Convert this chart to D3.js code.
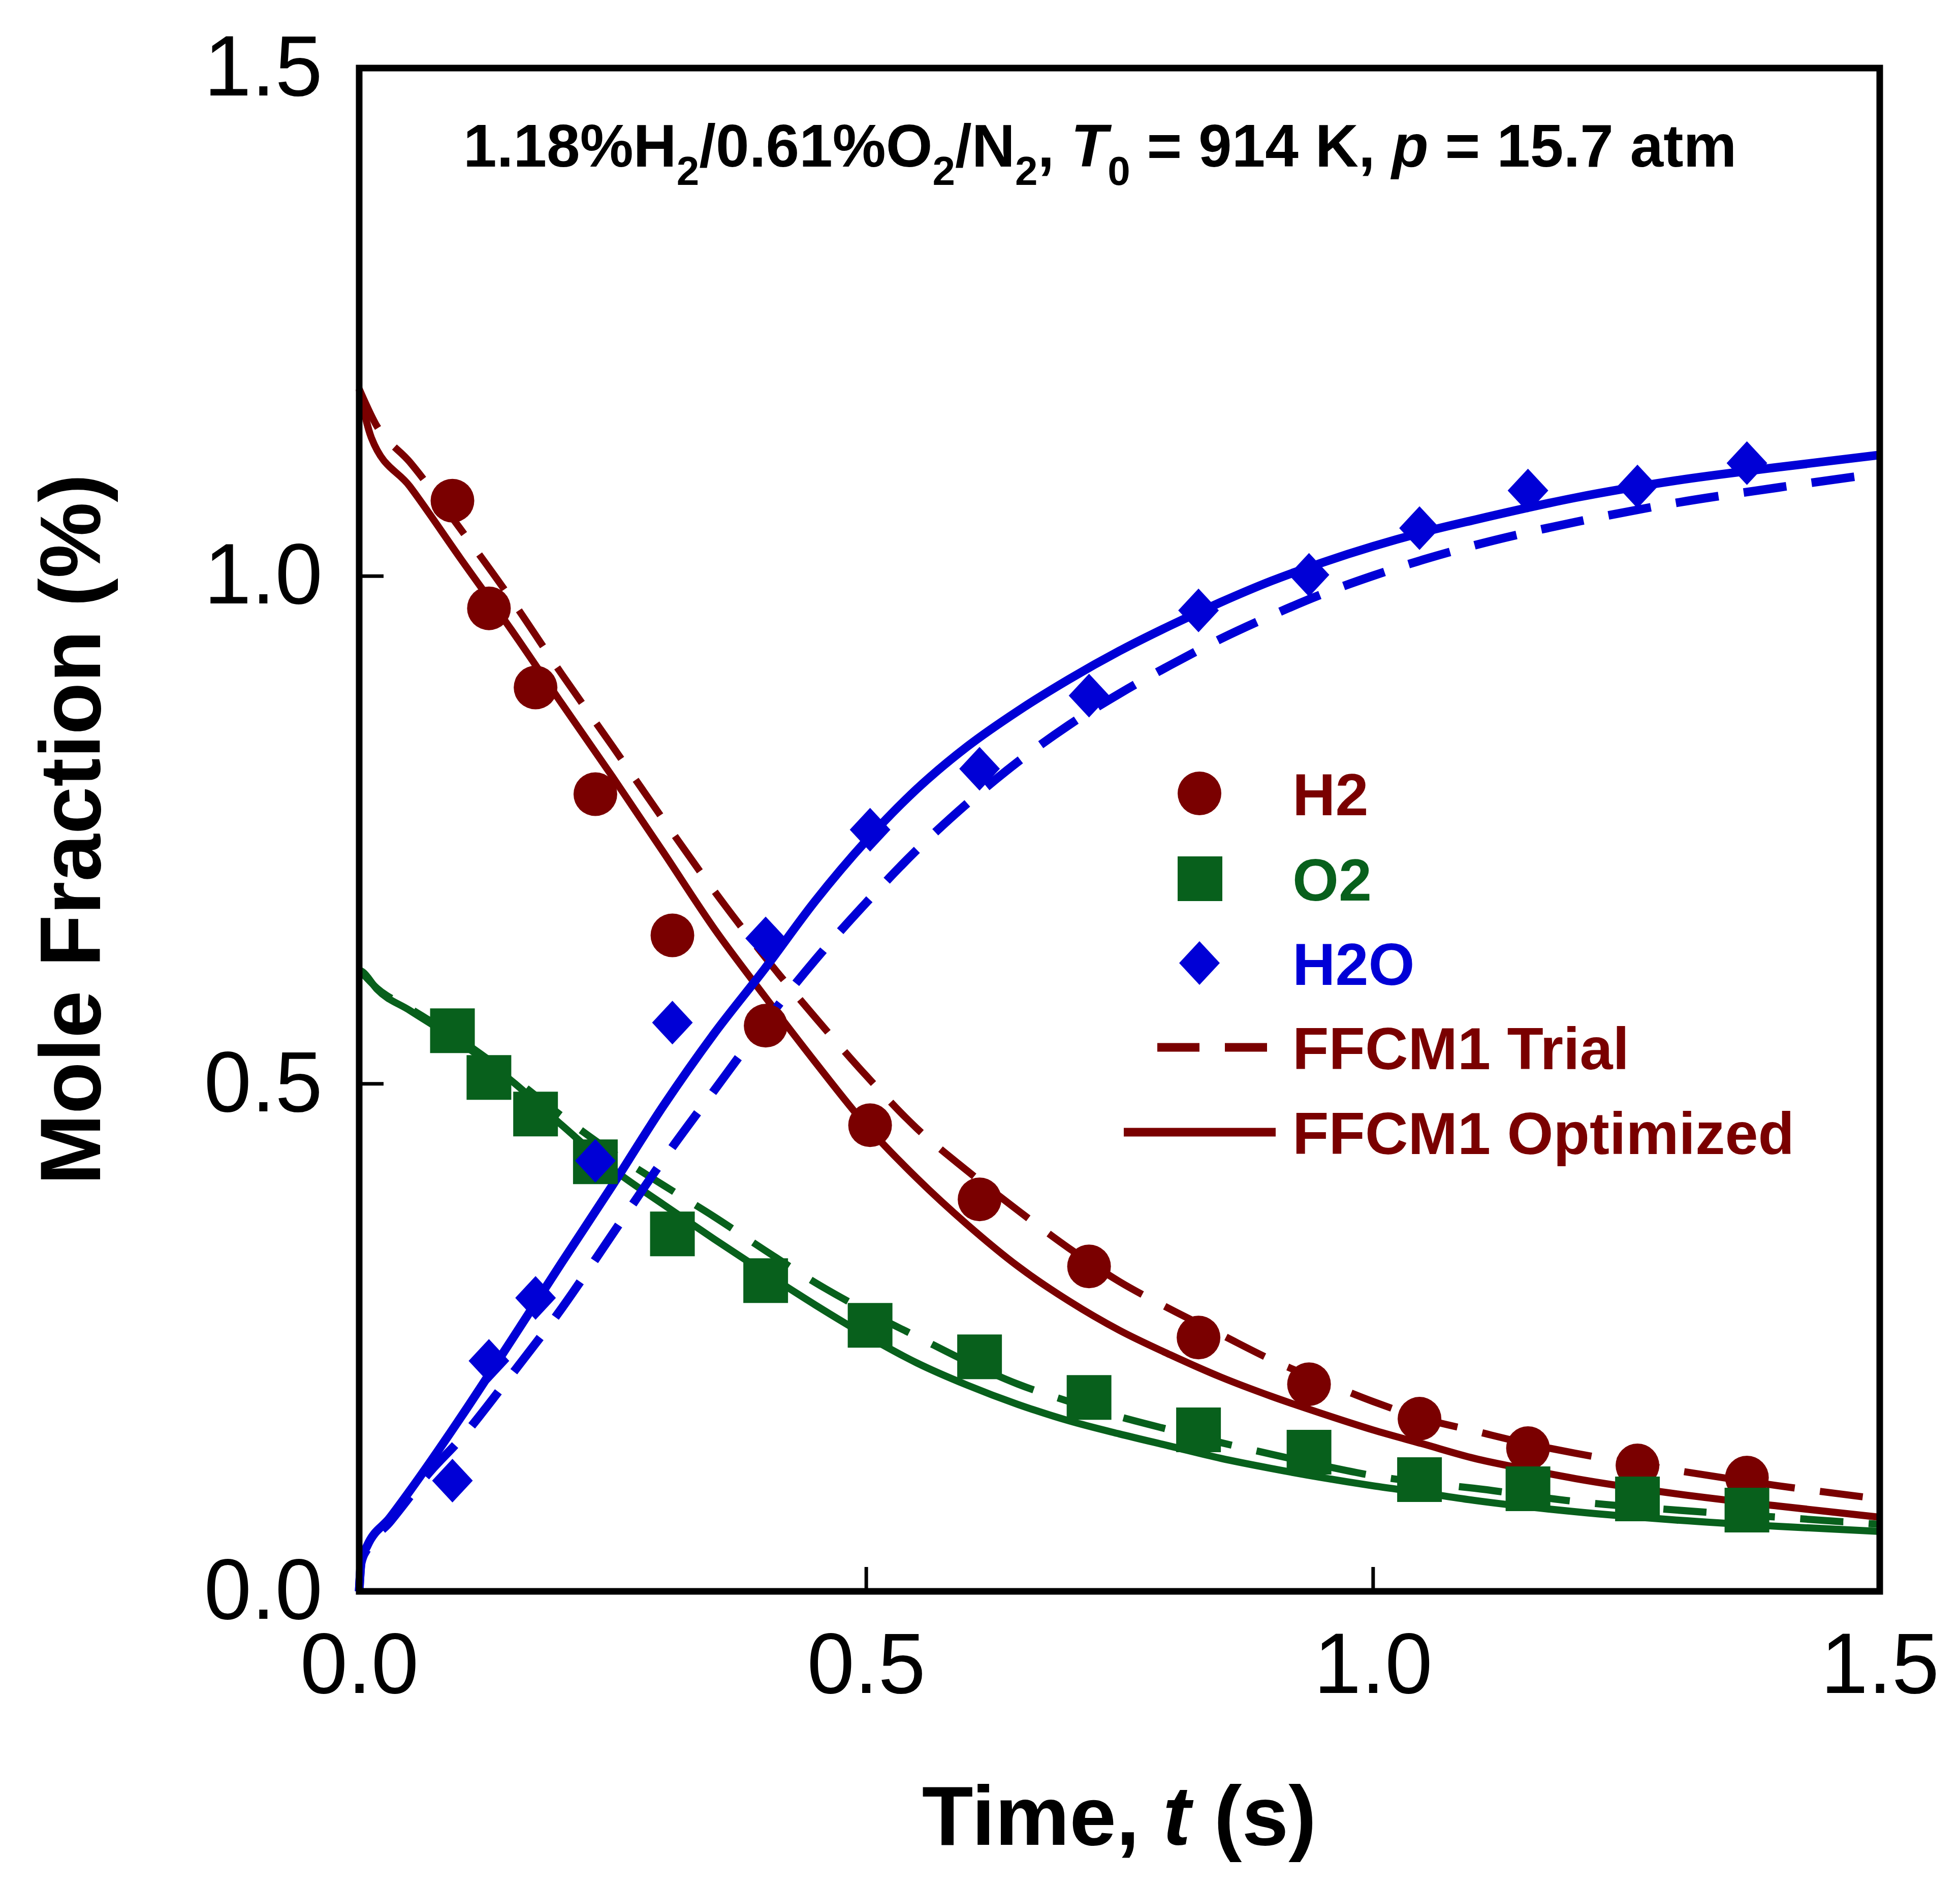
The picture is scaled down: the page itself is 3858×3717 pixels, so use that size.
<!DOCTYPE html>
<html>
<head>
<meta charset="utf-8">
<script src="https://cdn.jsdelivr.net/npm/d3@7"></script>
<style>
  body { margin: 0; background: #fff; }
  text { font-family: "Liberation Sans", Arial, sans-serif; }
</style>
</head>
<body>
<svg id="chart" width="3858" height="3717"></svg>
<script>
// measured points (time in s, mole fraction in %)
const expTime = [0.092, 0.128, 0.174, 0.233, 0.309, 0.401, 0.504, 0.612, 0.720, 0.828, 0.937, 1.046, 1.153, 1.261, 1.369];
const expH2   = [1.074, 0.968, 0.890, 0.785, 0.646, 0.557, 0.459, 0.386, 0.320, 0.250, 0.204, 0.170, 0.141, 0.124, 0.112];
const expO2   = [0.552, 0.506, 0.470, 0.423, 0.352, 0.306, 0.262, 0.231, 0.191, 0.159, 0.137, 0.110, 0.101, 0.091, 0.080];
const expH2O  = [0.109, 0.227, 0.289, 0.424, 0.560, 0.643, 0.750, 0.810, 0.882, 0.966, 1.001, 1.047, 1.084, 1.088, 1.111];

// model curves, [t, x]
const h2Opt = [[0,1.184],[0.012,1.136],[0.05,1.088],[0.10,1.017],[0.15,0.947],[0.20,0.874],[0.25,0.802],[0.30,0.728],
  [0.35,0.653],[0.40,0.586],[0.45,0.521],[0.50,0.459],[0.55,0.407],[0.60,0.361],[0.65,0.320],[0.70,0.286],[0.75,0.257],
  [0.80,0.233],[0.85,0.211],[0.90,0.192],[0.95,0.175],[1.00,0.159],[1.05,0.145],[1.10,0.131],[1.15,0.1205],[1.20,0.111],
  [1.30,0.096],[1.40,0.084],[1.50,0.073]];
const h2Trial = [[0,1.184],[0.016,1.150],[0.05,1.112],[0.10,1.046],[0.15,0.977],[0.20,0.903],[0.25,0.832],[0.30,0.760],
  [0.35,0.690],[0.40,0.625],[0.45,0.565],[0.50,0.508],[0.55,0.456],[0.60,0.414],[0.65,0.375],[0.70,0.338],[0.75,0.305],
  [0.80,0.278],[0.85,0.253],[0.90,0.228],[0.95,0.207],[1.00,0.187],[1.05,0.170],[1.10,0.158],[1.15,0.146],[1.20,0.136],
  [1.30,0.119],[1.40,0.104],[1.50,0.091]];
const o2Opt = [[0,0.612],[0.0035,0.610],[0.0175,0.593],[0.05,0.572],[0.10,0.540],[0.15,0.503],[0.20,0.459],[0.25,0.416],
  [0.30,0.381],[0.35,0.347],[0.40,0.314],[0.45,0.282],[0.50,0.252],[0.55,0.225],[0.60,0.203],[0.65,0.184],[0.70,0.168],
  [0.75,0.155],[0.80,0.143],[0.85,0.131],[0.90,0.121],[0.95,0.112],[1.00,0.104],[1.05,0.097],[1.10,0.0896],[1.20,0.0784],
  [1.30,0.0702],[1.40,0.064],[1.50,0.059]];
const o2Trial = [[0,0.612],[0.0175,0.594],[0.05,0.574],[0.10,0.543],[0.15,0.507],[0.20,0.468],[0.25,0.432],[0.30,0.400],
  [0.35,0.369],[0.40,0.336],[0.45,0.304],[0.50,0.276],[0.55,0.251],[0.60,0.226],[0.65,0.204],[0.70,0.187],[0.75,0.172],
  [0.80,0.159],[0.85,0.1465],[0.90,0.135],[0.95,0.124],[1.00,0.114],[1.05,0.107],[1.10,0.1015],[1.20,0.0885],[1.30,0.080],
  [1.40,0.073],[1.50,0.066]];
const h2oOpt = [[0,0],[0.002,0.030],[0.008,0.045],[0.03,0.072],[0.05,0.099],[0.10,0.171],[0.15,0.247],[0.20,0.324],
  [0.25,0.400],[0.30,0.478],[0.35,0.549],[0.40,0.613],[0.45,0.680],[0.50,0.739],[0.55,0.790],[0.60,0.832],[0.65,0.867],
  [0.70,0.898],[0.75,0.926],[0.80,0.951],[0.85,0.974],[0.90,0.995],[0.95,1.013],[1.00,1.029],[1.05,1.043],[1.10,1.055],
  [1.20,1.077],[1.30,1.094],[1.40,1.107],[1.50,1.119]];
const h2oTrial = [[0,0],[0.002,0.028],[0.008,0.042],[0.03,0.068],[0.07,0.118],[0.10,0.150],[0.15,0.213],[0.20,0.279],
  [0.25,0.352],[0.30,0.425],[0.35,0.493],[0.40,0.560],[0.45,0.622],[0.50,0.678],[0.55,0.730],[0.60,0.776],[0.65,0.817],
  [0.70,0.853],[0.75,0.884],[0.80,0.912],[0.85,0.938],[0.90,0.961],[0.95,0.982],[1.00,1.000],[1.05,1.016],[1.10,1.030],
  [1.20,1.053],[1.30,1.072],[1.40,1.087],[1.50,1.101]];

const ticks = [0, 0.5, 1.0, 1.5];
const legendLabels = ['H2', 'O2', 'H2O', 'FFCM1 Trial', 'FFCM1 Optimized'];

const RED = '#7a0000', GREEN = '#08601c', BLUE = '#0000d6';

const svg = d3.select('#chart');
svg.append('rect').attr('width', 3858).attr('height', 3717).attr('fill', '#fff');

const xScale = d3.scaleLinear().domain([0, 1.5]).range([707, 3700]);
const yScale = d3.scaleLinear().domain([0, 1.5]).range([3133, 134]);

// axes, ticks pointing inward
const fmt = d3.format('.1f');
const xAxis = svg.append('g')
  .attr('transform', 'translate(0,3133)')
  .call(d3.axisBottom(xScale).tickValues(ticks).tickSize(-48).tickPadding(81).tickFormat(fmt));
const yAxis = svg.append('g')
  .attr('transform', 'translate(707,0)')
  .call(d3.axisLeft(yScale).tickValues(ticks).tickSize(-48).tickPadding(72).tickFormat(fmt));
[xAxis, yAxis].forEach(g => {
  g.select('.domain').remove();
  g.selectAll('line').attr('stroke', '#000').attr('stroke-width', 7);
  g.selectAll('text').attr('font-size', 168).attr('fill', '#000')
    .attr('font-family', '"Liberation Sans", Arial, sans-serif');
});

// model lines
const line = d3.line()
  .x(d => xScale(d[0]))
  .y(d => yScale(d[1]))
  .curve(d3.curveMonotoneX);

const series = [
  { d: h2Trial, c: RED, w: 14, dash: '85,50' },
  { d: h2Opt, c: RED, w: 14, dash: null },
  { d: o2Trial, c: GREEN, w: 14, dash: '85,50' },
  { d: o2Opt, c: GREEN, w: 14, dash: null },
  { d: h2oTrial, c: BLUE, w: 17, dash: '85,50' },
  { d: h2oOpt, c: BLUE, w: 17, dash: null }
];
svg.append('g').selectAll('path')
  .data(series)
  .enter()
  .append('path')
    .attr('d', s => line(s.d))
    .attr('fill', 'none')
    .attr('stroke', s => s.c)
    .attr('stroke-width', s => s.w)
    .attr('stroke-dasharray', s => s.dash);

// measured symbols
const circle = d3.symbol().type(d3.symbolCircle).size(Math.PI * 43 * 43);
const square = d3.symbol().type(d3.symbolSquare).size(88 * 88);
const diamond = 'M0,-43L40,0L0,43L-40,0Z';

svg.append('g').selectAll('path')
  .data(expTime.map((t, i) => [t, expH2[i]]))
  .enter().append('path')
    .attr('d', circle())
    .attr('transform', d => `translate(${xScale(d[0])},${yScale(d[1])})`)
    .attr('fill', RED);
svg.append('g').selectAll('path')
  .data(expTime.map((t, i) => [t, expO2[i]]))
  .enter().append('path')
    .attr('d', square())
    .attr('transform', d => `translate(${xScale(d[0])},${yScale(d[1])})`)
    .attr('fill', GREEN);
svg.append('g').selectAll('path')
  .data(expTime.map((t, i) => [t, expH2O[i]]))
  .enter().append('path')
    .attr('d', diamond)
    .attr('transform', d => `translate(${xScale(d[0])},${yScale(d[1])})`)
    .attr('fill', BLUE);

// frame
svg.append('rect')
  .attr('x', 707).attr('y', 134)
  .attr('width', 3700 - 707).attr('height', 3133 - 134)
  .attr('fill', 'none').attr('stroke', '#000').attr('stroke-width', 13);

// axis titles
const xt = svg.append('text')
  .attr('x', 2203).attr('y', 3632)
  .attr('text-anchor', 'middle').attr('font-size', 165).attr('font-weight', 'bold');
xt.append('tspan').text('Time, ');
xt.append('tspan').attr('font-style', 'italic').text('t');
xt.append('tspan').text(' (s)');

svg.append('text')
  .attr('transform', 'translate(197,1633) rotate(-90)')
  .attr('text-anchor', 'middle').attr('font-size', 168).attr('font-weight', 'bold')
  .text('Mole Fraction (%)');

// condition annotation
const ann = svg.append('text')
  .attr('x', 912).attr('y', 328)
  .attr('font-size', 118).attr('font-weight', 'bold');
const parts = [
  ['1.18%H'], ['2', 'sub'], ['/0.61%O'], ['2', 'sub'], ['/N'], ['2', 'sub'], [', '],
  ['T', 'it'], ['0', 'sub'], [' = 914 K, '], ['p', 'it'], [' = 15.7 atm']
];
let down = false;
parts.forEach(p => {
  const ts = ann.append('tspan').text(p[0]);
  if (p[1] === 'sub') {
    ts.attr('font-size', 80).attr('dy', 36);
    down = true;
  } else {
    if (down) { ts.attr('dy', -36); down = false; }
    if (p[1] === 'it') ts.attr('font-style', 'italic');
  }
});

// legend
const legend = svg.append('g');
const rowY = [1562, 1730, 1896, 2062, 2229];
legend.append('path').attr('d', circle()).attr('transform', `translate(2361,${rowY[0]})`).attr('fill', RED);
legend.append('path').attr('d', square()).attr('transform', `translate(2362,${rowY[1]})`).attr('fill', GREEN);
legend.append('path').attr('d', diamond).attr('transform', `translate(2361,${rowY[2]})`).attr('fill', BLUE);
legend.append('line')
  .attr('x1', 2278).attr('x2', 2494).attr('y1', rowY[3]).attr('y2', rowY[3])
  .attr('stroke', RED).attr('stroke-width', 17).attr('stroke-dasharray', '83,50');
legend.append('line')
  .attr('x1', 2212).attr('x2', 2511).attr('y1', rowY[4]).attr('y2', rowY[4])
  .attr('stroke', RED).attr('stroke-width', 17);
const legendColors = [RED, GREEN, BLUE, RED, RED];
legend.selectAll('text.leg')
  .data(legendLabels)
  .enter().append('text')
    .attr('class', 'leg')
    .attr('x', 2544)
    .attr('y', (d, i) => rowY[i] + 43)
    .attr('font-size', 117).attr('font-weight', 'bold')
    .attr('fill', (d, i) => legendColors[i])
    .text(d => d);
</script>
</body>
</html>
